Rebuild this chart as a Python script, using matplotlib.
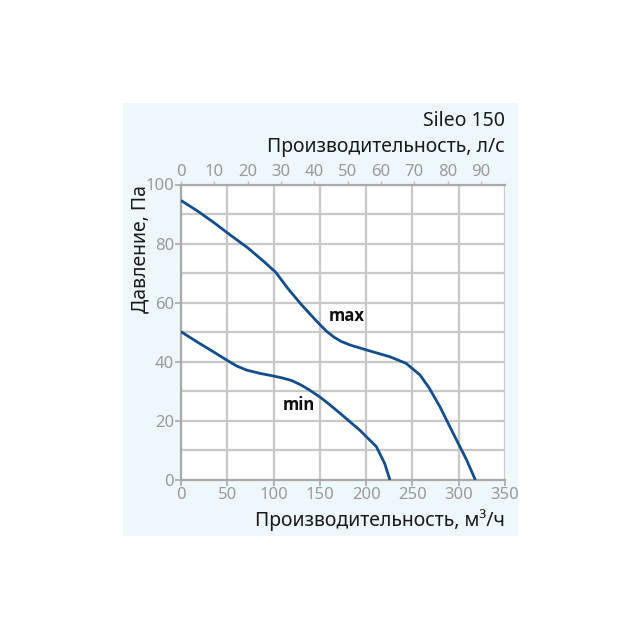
import matplotlib
matplotlib.use("Agg")
import matplotlib.pyplot as plt
from matplotlib.patches import Rectangle

plt.rcParams['font.family'] = ['Noto Sans', 'DejaVu Sans']

# data (m3/h, Pa)
max_q = [0, 18, 36, 51.5, 72, 90, 102.6, 115, 129.6, 144, 150, 157, 165, 173, 182.5,
         200.5, 225.7, 243, 258, 268, 279.7, 294, 308.5, 318]
max_p = [94.6, 91, 87, 83.3, 78.6, 73.8, 70.2, 65, 59.5, 54.6, 52.6, 50.4, 48.4, 46.9, 45.7,
         44, 41.7, 39.5, 35.6, 31.2, 24.8, 15.8, 6.8, 0]
min_q = [0, 17, 34.9, 50.4, 60, 70.9, 85, 99.7, 110, 120, 130, 140, 150, 161, 171.7,
         193, 211, 220, 225.7]
min_p = [50.2, 46.8, 43.4, 40.4, 38.6, 37.2, 36.1, 35.2, 34.5, 33.6, 32.1, 30.2, 28.1,
         25.4, 22.6, 16.9, 11.3, 5.6, 0]
x_ticks = [0, 50, 100, 150, 200, 250, 300, 350]
y_ticks = [0, 20, 40, 60, 80, 100]
top_ticks = [0, 10, 20, 30, 40, 50, 60, 70, 80, 90]
title = "Sileo 150"
top_label = "Производительность, л/с"
bottom_label = "Производительность, м³/ч"
y_label = "Давление, Па"

W = 640
fig = plt.figure(figsize=(6.4, 6.4), dpi=100)
fig.patch.set_facecolor('white')
bg = Rectangle((123 / W, 1 - 536 / W), (518 - 123) / W, (536 - 103) / W,
               transform=fig.transFigure, facecolor='#eef7fc',
               edgecolor='none', zorder=-10)
fig.patches.append(bg)

ax = fig.add_axes([181 / W, 1 - 480 / W, (505 - 181) / W, (480 - 184.5) / W])
ax.set_zorder(5)
ax.set_facecolor('white')
ax.set_xlim(0, 350)
ax.set_ylim(0, 100)

grid_c = '#c8c8c8'
for v in range(0, 351, 50):
    ax.axvline(v, color=grid_c, lw=1.6, zorder=1)
for v in range(0, 101, 10):
    ax.axhline(v, color=grid_c, lw=1.6, zorder=1)

line_c = '#134d8c'
ax.plot(max_q, max_p, color=line_c, lw=2.0, zorder=3, solid_capstyle='butt',
        solid_joinstyle='round')
ax.plot(min_q, min_p, color=line_c, lw=2.0, zorder=3, solid_capstyle='butt',
        solid_joinstyle='round')
ax.text(179, 55.5, "max", fontsize=12, fontweight='bold', family=['Open Sans', 'DejaVu Sans'],
        color='#111111', ha='center', va='center', zorder=4)
ax.text(127, 25.5, "min", fontsize=12, fontweight='bold', family=['Open Sans', 'DejaVu Sans'],
        color='#111111', ha='center', va='center', zorder=4)

spine_c = '#a9a9a9'
for s in ['left', 'bottom', 'top']:
    ax.spines[s].set_color(spine_c)
    ax.spines[s].set_linewidth(1.6)
ax.spines['right'].set_visible(False)

tick_c = '#9a9a9a'
ax.set_xticks(x_ticks)
ax.set_yticks(y_ticks)
ax.tick_params(axis='both', colors=spine_c, labelcolor=tick_c, labelsize=12,
               length=4, width=1.2, direction='out', pad=1)

sec = ax.secondary_xaxis('top', functions=(lambda q: q / 3.6, lambda l: l * 3.6))
sec.set_xticks(top_ticks)
sec.tick_params(colors='#c0c0c0', labelcolor=tick_c, labelsize=12, length=2.5,
                width=1.0, direction='out', pad=1)
sec.spines['top'].set_visible(False)

fig.text(505 / W, 1 - 121 / W, title, ha='right', va='center', fontsize=14, color='#1a1a1a')
fig.text(505 / W, 1 - 147 / W, top_label, ha='right', va='center', fontsize=14, color='#1a1a1a')
fig.text(505 / W, 1 - 520 / W, bottom_label, ha='right', va='center', fontsize=14, color='#1a1a1a')
fig.text(140 / W, 1 - 185 / W, y_label, ha='center', va='top', rotation=90, fontsize=14, color='#1a1a1a')

fig.savefig("out.png", dpi=100, facecolor='white')
